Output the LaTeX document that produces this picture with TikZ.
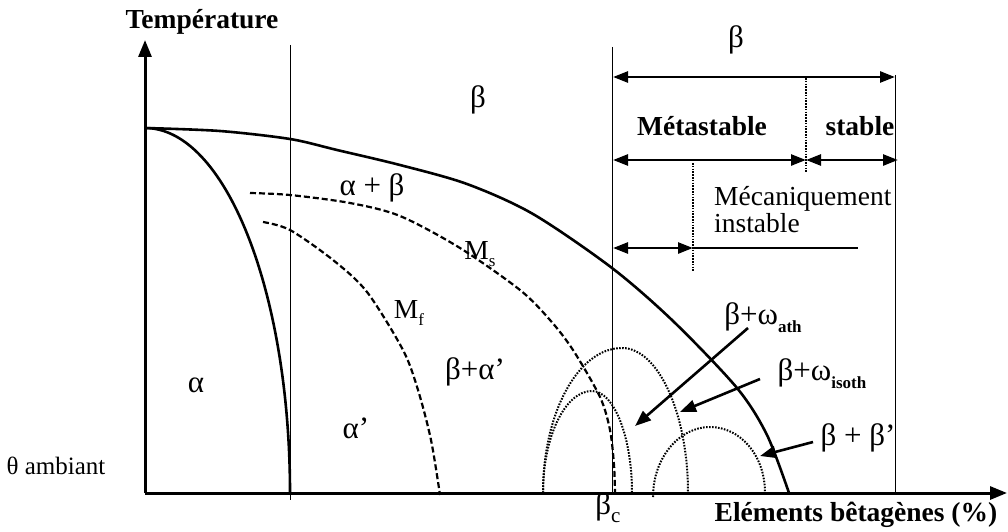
\documentclass[tikz,border=0pt]{standalone}
\usepackage{fontspec}
\setmainfont{Liberation Serif}
\usetikzlibrary{arrows.meta}
\newcommand{\mysub}[1]{\raisebox{-0.28em}{\fontsize{17}{17}\selectfont #1}}
\newcommand{\grk}[1]{{\fontsize{31}{31}\selectfont #1}}
\begin{document}
\begin{tikzpicture}[x=1pt,y=-1pt,
  lbl/.style={inner sep=0pt, font=\fontsize{27.5}{29}\selectfont},
  blbl/.style={inner sep=0pt, font=\fontsize{27.5}{29}\selectfont\bfseries},
  axisline/.style={line width=3pt, -{Triangle[length=17pt,width=13pt]}},
  solidcurve/.style={line width=2.6pt},
  dashcurve/.style={line width=2.2pt, dash pattern=on 6pt off 3pt},
  dotcurve/.style={line width=2pt, dash pattern=on 1.6pt off 1.4pt},
  thinline/.style={line width=1pt},
  dotline/.style={line width=1.8pt, dash pattern=on 1.6pt off 1.2pt},
  darrow/.style={line width=2.6pt, {Triangle[length=15pt,width=11pt]}-{Triangle[length=15pt,width=11pt]}},
  parrow/.style={line width=2.6pt, -{Triangle[length=16pt,width=12pt]}},
  plainline/.style={line width=2.6pt},
]
\useasboundingbox (0,0) rectangle (1008,532);

% axes
\coordinate (O) at (145,493);
\coordinate (Ytop) at (145,40);
\coordinate (Xend) at (1007,493);
\draw[axisline] (O) -- (Ytop);
\draw[axisline] (O) -- (Xend);

% thin vertical lines
\coordinate (v1t) at (290,45);  \coordinate (v1b) at (290,500);
\coordinate (v2t) at (612,47);  \coordinate (v2b) at (612,493);
\coordinate (v3t) at (895,75);  \coordinate (v3b) at (895,493);
\draw[thinline] (v1t) -- (v1b);
\draw[thinline] (v2t) -- (v2b);
\draw[thinline] (v3t) -- (v3b);
\coordinate (d1t) at (806,78);  \coordinate (d1b) at (806,173);
\coordinate (d2t) at (693,163); \coordinate (d2b) at (693,272);
\draw[dotline] (d1t) -- (d1b);
\draw[dotline] (d2t) -- (d2b);

% solid curves
\draw[solidcurve] (145,128) .. controls (225,128) and (290,291) .. (290,493);
\draw[solidcurve] plot[smooth, tension=0.5] coordinates {(145,128) (220,131) (290,139) (337,150) (400,165) (467,184) (533,214) (612,268) (673,321) (737,388) (767,435) (789,493)};

% dashed curves
\draw[dashcurve] plot[smooth, tension=0.5] coordinates {(250,193) (290,195) (350,203) (400,216) (460,248) (520,290) (550,320) (573,350) (600,397) (610,430) (614,465) (615,493)};
\draw[dashcurve] plot[smooth, tension=0.5] coordinates {(263,222) (290,230) (333,260) (367,292) (403,350) (418,390) (431,440) (440,495)};

% dotted arches
\draw[dotcurve] (543,493) .. controls (543,413) and (578,348) .. (622,348)
                          .. controls (658,348) and (688,413) .. (688,493);
\draw[dotcurve] (543,493) .. controls (543,437) and (565,391) .. (592,391)
                          .. controls (614,391) and (632,437) .. (632,493);
\draw[dotcurve] (653,497) .. controls (653,458) and (679,427) .. (710,427)
                          .. controls (740,427) and (765,455) .. (765,493);

% top range arrows
\coordinate (b1) at (613,77);  \coordinate (b2) at (895,77);
\draw[darrow] (b1) -- (b2);
\coordinate (m1) at (613,160); \coordinate (m2) at (806,160); \coordinate (s2) at (898,160);
\draw[darrow] (m1) -- (m2);
\draw[darrow] (m2) -- (s2);
\coordinate (i1) at (613,248); \coordinate (i2) at (693,248); \coordinate (i3) at (858,248);
\draw[darrow] (i1) -- (i2);
\draw[plainline] (i2) -- (i3);

% pointer arrows
\coordinate (w1s) at (748,328); \coordinate (w1e) at (635,426);
\coordinate (w2s) at (760,379); \coordinate (w2e) at (680,412);
\coordinate (w3s) at (813,442); \coordinate (w3e) at (760,456);
\draw[parrow] (w1s) -- (w1e);
\draw[parrow] (w2s) -- (w2e);
\draw[parrow] (w3s) -- (w3e);

% labels
\node[lbl, font=\fontsize{25}{27}\selectfont] (amb) at (56,466) {θ ambiant};
\node[blbl] (temp) at (202,22) {Température};
\node[blbl] (elem) at (856,515) {Eléments bêtagènes (\%)};
\node[lbl] (bc) at (608,508) {\grk{β}\mysub{\fontsize{21}{21}\selectfont c}};
\node[lbl] (btop) at (736,40) {\grk{β}};
\node[blbl] (meta) at (702,126) {Métastable};
\node[blbl] (stab) at (860,126) {stable};
\node[lbl, anchor=base west] (meca1) at (714,205) {Mécaniquement};
\node[lbl, anchor=base west] (meca2) at (714,232) {instable};
\node[lbl] (bigb) at (478,100) {\grk{β}};
\node[lbl] (ab) at (372,188) {\grk{α + β}};
\node[lbl] (alpha) at (196,385) {\grk{α}};
\node[lbl] (alphap) at (356,428) {\grk{α’}};
\node[lbl] (ba) at (475,372) {\grk{β+α’}};
\node[lbl] (ms) at (480,254) {M\mysub{s}};
\node[lbl] (mf) at (409,313) {M\mysub{f}};
\node[lbl] (wath) at (763,318) {\grk{β+ω}\mysub{\bfseries ath}};
\node[lbl] (wiso) at (822,374) {\grk{β+ω}\mysub{\bfseries isoth}};
\node[lbl] (bbp) at (858,438) {\grk{β + β’}};
\end{tikzpicture}
\end{document}
